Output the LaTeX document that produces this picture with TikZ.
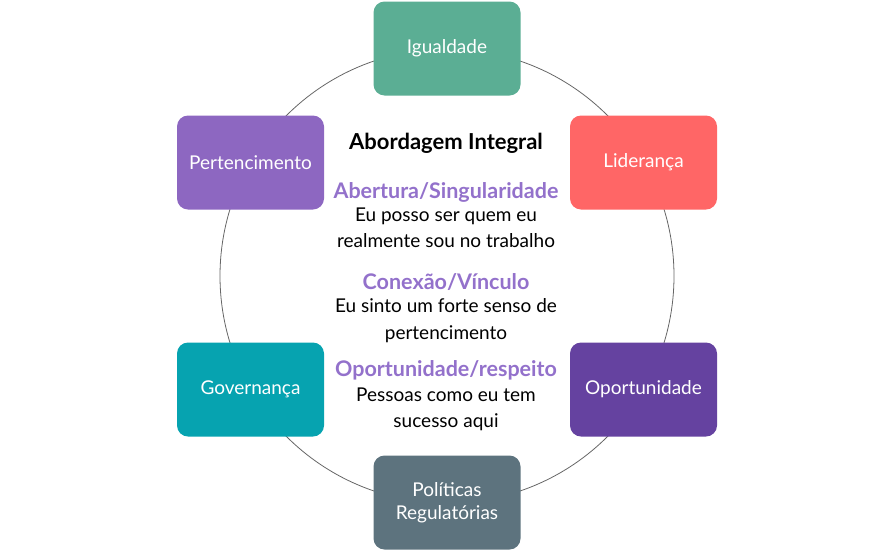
\documentclass[tikz,border=0pt]{standalone}
\usepackage{fontspec}
\setmainfont{Lato}
\usepackage{tikz}

\definecolor{igualdadeC}{HTML}{5BAE94}
\definecolor{liderancaC}{HTML}{FF6666}
\definecolor{pertenceC}{HTML}{8D67C1}
\definecolor{oportC}{HTML}{6542A0}
\definecolor{governaC}{HTML}{06A3B0}
\definecolor{politicasC}{HTML}{5D737E}
\definecolor{tituloC}{HTML}{9371CB}

\tikzset{
  pilar/.style={rectangle,rounded corners=11pt,minimum width=147pt,minimum height=94pt,
    text=white,align=center,font=\fontsize{19pt}{23pt}\selectfont},
  titulo/.style={text=tituloC,font=\fontsize{21.5pt}{27pt}\selectfont\bfseries},
  corpo/.style={align=center,font=\fontsize{19pt}{26.5pt}\selectfont}
}

\begin{document}
\begin{tikzpicture}[x=1pt,y=-1pt]
			\useasboundingbox (0,0) rectangle (893,552);
			\coordinate (centro) at (447,276);
			\draw [gray!80!black,line width=0.8pt] (centro) circle (227);
			% pilares
			\node [pilar,fill=igualdadeC] (igualdade) at (447,48.5) {Igualdade};
			\node [pilar,fill=liderancaC] (lideranca) at (643.5,162.5) {Liderança};
			\node [pilar,fill=oportC] (oportunidade) at (643.5,389.5) {Oportunidade};
			\node [pilar,fill=politicasC] (politicas) at (447,502.5) {Políticas\\Regulatórias};
			\node [pilar,fill=governaC] (governanca) at (250.5,389.5) {Governança};
			\node [pilar,fill=pertenceC] (pertencimento) at (250.5,162.5) {Pertencimento};
			% texto central
			\node [font=\fontsize{22pt}{27pt}\selectfont\bfseries] (abordagem) at (446,143) {Abordagem Integral};
			\node [titulo] (abertura) at (446,192) {Abertura/Singularidade};
			\node [corpo,anchor=north] (abertura-txt) at (446,204) {Eu posso ser quem eu\\realmente sou no trabalho};
			\node [titulo] (conexao) at (446,282) {Conexão/Vínculo};
			\node [corpo,anchor=north] (conexao-txt) at (446,295) {Eu sinto um forte senso de\\pertencimento};
			\node [titulo] (respeito) at (446,370) {Oportunidade/respeito};
			\node [corpo,anchor=north] (respeito-txt) at (446,384) {Pessoas como eu tem\\sucesso aqui};
		\end{tikzpicture}
\end{document}
